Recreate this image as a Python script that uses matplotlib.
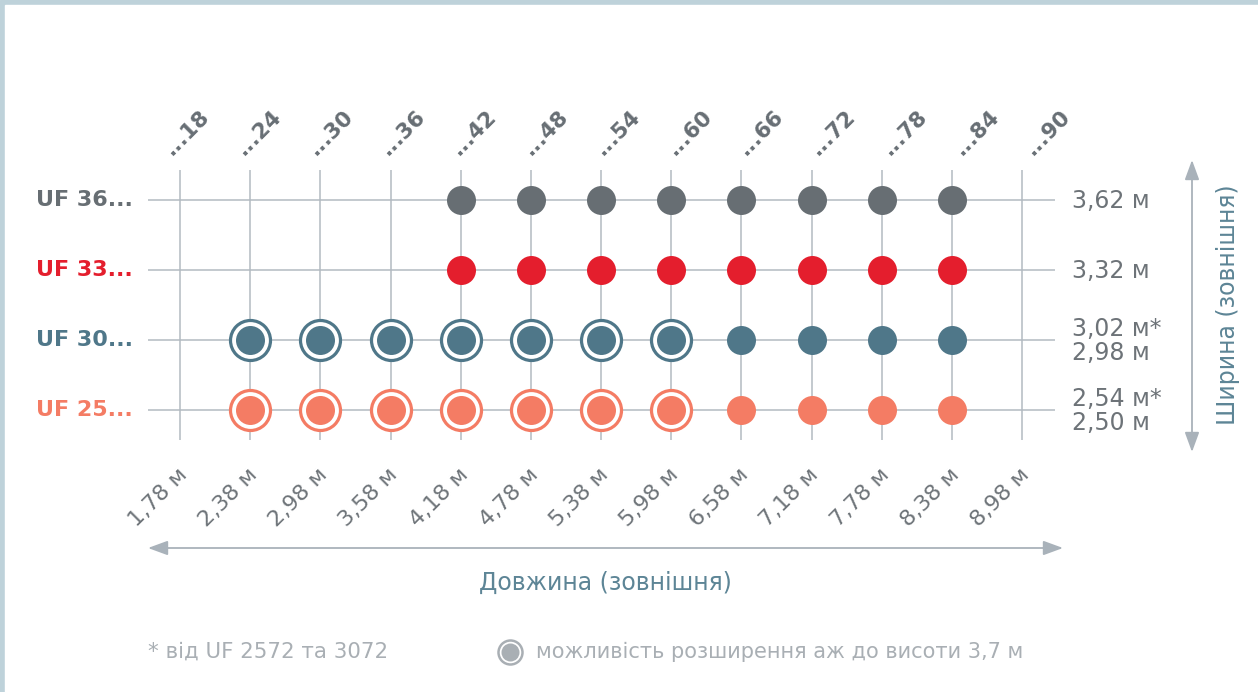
import matplotlib
matplotlib.use("Agg")
from matplotlib import pyplot as plt
from matplotlib.patches import Rectangle

# data
lengths = [1.78, 2.38, 2.98, 3.58, 4.18, 4.78, 5.38, 5.98, 6.58, 7.18, 7.78, 8.38, 8.98]
length_labels = ['1,78 м', '2,38 м', '2,98 м', '3,58 м', '4,18 м', '4,78 м', '5,38 м',
                 '5,98 м', '6,58 м', '7,18 м', '7,78 м', '8,38 м', '8,98 м']
model_codes = ['...18', '...24', '...30', '...36', '...42', '...48', '...54',
               '...60', '...66', '...72', '...78', '...84', '...90']

series_names = ['UF 25...', 'UF 30...', 'UF 33...', 'UF 36...']
width_labels = ['2,54 м*\n2,50 м', '3,02 м*\n2,98 м', '3,32 м', '3,62 м']
series_colors = ['#f47c64', '#4f7789', '#e41e2d', '#676e73']

uf25_len = [2.38, 2.98, 3.58, 4.18, 4.78, 5.38, 5.98, 6.58, 7.18, 7.78, 8.38]
uf25_ext = [2.38, 2.98, 3.58, 4.18, 4.78, 5.38, 5.98]
uf30_len = [2.38, 2.98, 3.58, 4.18, 4.78, 5.38, 5.98, 6.58, 7.18, 7.78, 8.38]
uf30_ext = [2.38, 2.98, 3.58, 4.18, 4.78, 5.38, 5.98]
uf33_len = [4.18, 4.78, 5.38, 5.98, 6.58, 7.18, 7.78, 8.38]
uf33_ext = []
uf36_len = [4.18, 4.78, 5.38, 5.98, 6.58, 7.18, 7.78, 8.38]
uf36_ext = []

all_len = [uf25_len, uf30_len, uf33_len, uf36_len]
all_ext = [uf25_ext, uf30_ext, uf33_ext, uf36_ext]

W, H = 1258, 692
fig = plt.figure(figsize=(W / 100, H / 100), dpi=100)
PX = 72 / 100  # points per pixel

font = ['DejaVu Sans']
grid_c = '#b3bac1'
label_c = '#6d7378'

# background / decorations in pixel coords
bg = fig.add_axes([0, 0, 1, 1], zorder=-1)
bg.set_xlim(0, W)
bg.set_ylim(H, 0)
bg.axis('off')
bg.add_patch(Rectangle((0, 0), W, H, color='#bed2da'))
bg.add_patch(Rectangle((5, 5), W, H, color='white'))

# main chart
ax = fig.add_axes([148 / W, (H - 440) / H, 907 / W, 270 / H])
ax.patch.set_alpha(0)
ax.set_xlim(1.78 - 0.274, 8.98 + 0.282)
ax.set_ylim(-0.4286, 3.4286)
ax.axis('off')

rows = list(range(len(series_names)))
ax.vlines(lengths, -0.4286, 3.4286, color=grid_c, lw=1.1, zorder=1)
ax.hlines(rows, 1.78 - 0.274, 8.98 + 0.282, color=grid_c, lw=1.1, zorder=1)

for r, xs, ext, c in zip(rows, all_len, all_ext, series_colors):
    if ext:
        ax.plot(ext, [r] * len(ext), ls='none', marker='o', ms=40 * PX,
                mfc='white', mec=c, mew=3.2 * PX, zorder=2)
    ax.plot(xs, [r] * len(xs), ls='none', marker='o', ms=29 * PX,
            mfc=c, mec='none', zorder=3)

# row labels
for r, name, c, wl in zip(rows, series_names, series_colors, width_labels):
    ax.annotate(name, xy=(0, r), xycoords=('axes fraction', 'data'),
                xytext=(-15 * PX, 0), textcoords='offset points',
                ha='right', va='center', fontsize=16, fontweight='bold',
                color=c, family=font)
    ax.annotate(wl, xy=(1, r), xycoords=('axes fraction', 'data'),
                xytext=(17 * PX, -1 * PX), textcoords='offset points',
                ha='left', va='center', fontsize=17, color=label_c,
                family=font, linespacing=0.95)

# top model codes
for i, (x, code) in enumerate(zip(lengths, model_codes)):
    ax.annotate(code, xy=(x, 1), xycoords=('data', 'axes fraction'),
                xytext=((-8 + 1.6 * i) * PX, 14 * PX), textcoords='offset points',
                rotation=45, rotation_mode='anchor', ha='left', va='baseline',
                fontsize=15.5, fontweight='bold', color='#676e74', family=font)

# bottom lengths
for x, lab in zip(lengths, length_labels):
    ax.annotate(lab, xy=(x, 0), xycoords=('data', 'axes fraction'),
                xytext=(-3 * PX, -24 * PX), textcoords='offset points',
                rotation=45, rotation_mode='anchor', ha='right', va='top',
                fontsize=16, color=label_c, family=font)

# arrows
arrow_c = '#a9b2ba'
bg.annotate('', xy=(148, 548), xytext=(1063, 548),
            arrowprops=dict(arrowstyle='<|-|>,head_length=0.6,head_width=0.22',
                            mutation_scale=20, color=arrow_c, lw=1.3,
                            shrinkA=0, shrinkB=0))
bg.annotate('', xy=(1192, 160), xytext=(1192, 452),
            arrowprops=dict(arrowstyle='<|-|>,head_length=0.6,head_width=0.22',
                            mutation_scale=20, color=arrow_c, lw=1.3,
                            shrinkA=0, shrinkB=0))

axis_c = '#5d8596'
bg.text(605, 583, 'Довжина (зовнішня)', ha='center', va='center',
        fontsize=17, color=axis_c, family=font)
bg.text(1228, 305, 'Ширина (зовнішня)', ha='center', va='center', rotation=90,
        fontsize=17, color=axis_c, family=font)

# footer
foot_c = '#a9afb4'
bg.text(148, 652, '* від UF 2572 та 3072', ha='left', va='center',
        fontsize=15.4, color=foot_c, family=font)
bg.plot([510], [652], marker='o', ms=24 * PX, mfc='white', mec=foot_c, mew=2.5 * PX)
bg.plot([510], [652], marker='o', ms=18 * PX, mfc=foot_c, mec='none')
bg.text(536, 652, 'можливість розширення аж до висоти 3,7 м', ha='left', va='center',
        fontsize=15, color=foot_c, family=font)

fig.savefig('out.png', dpi=100)
